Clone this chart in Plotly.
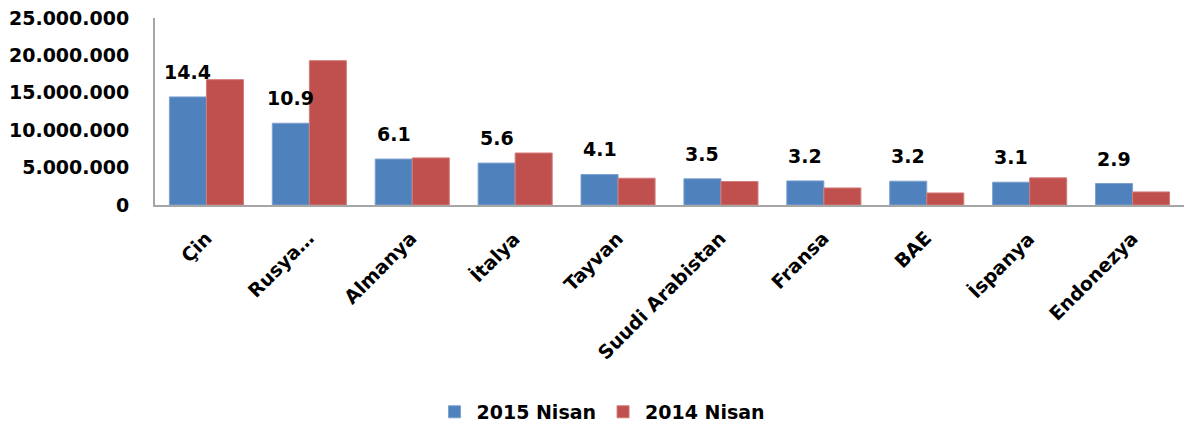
import plotly.graph_objects as go

categories = ["Çin", "Rusya…", "Almanya", "İtalya", "Tayvan", "Suudi Arabistan",
              "Fransa", "BAE", "İspanya", "Endonezya"]
series_2015 = [14450000, 10930000, 6140000, 5600000, 4080000, 3500000,
               3220000, 3180000, 3050000, 2870000]
series_2014 = [16760000, 19300000, 6300000, 6950000, 3580000, 3140000,
               2280000, 1610000, 3630000, 1750000]
labels_2015 = ["14.4", "10.9", "6.1", "5.6", "4.1", "3.5", "3.2", "3.2", "3.1", "2.9"]
y_ticks = [0, 5000000, 10000000, 15000000, 20000000, 25000000]

FONT = "DejaVu Sans"
BLUE = "#4F81BD"
RED = "#C0504D"

fig = go.Figure()
fig.add_trace(go.Bar(name="2015 Nisan", x=categories, y=series_2015,
                     marker=dict(color=BLUE, line=dict(color="#7EA1CE", width=1))))
fig.add_trace(go.Bar(name="2014 Nisan", x=categories, y=series_2014,
                     marker=dict(color=RED, line=dict(color="#D27C7A", width=1))))

for cat, val, lab in zip(categories, series_2015, labels_2015):
    fig.add_annotation(x=cat, y=val, text=lab, showarrow=False,
                       xshift=-18.5, yshift=25, yanchor="middle",
                       font=dict(family=FONT, size=19, color="black", weight="bold"))

# category labels, rotated
for cat in categories:
    fig.add_annotation(x=cat, y=0, text=cat, showarrow=False, textangle=-45,
                       xanchor="right", yanchor="top", xshift=12, yshift=-19,
                       font=dict(family=FONT, size=19, color="black", weight="bold"))

fig.update_layout(
    width=1184, height=426,
    margin=dict(l=155, r=0, t=18, b=221, autoexpand=False),
    paper_bgcolor="white", plot_bgcolor="white",
    barmode="group", bargap=0.28, bargroupgap=0,
    separators=",.",
    font=dict(family=FONT, size=19, color="black", weight="bold"),
    legend=dict(orientation="h", xref="container", yref="container",
                x=0.508, xanchor="center", y=0.033, yanchor="middle",
                font=dict(family=FONT, size=19, color="black", weight="bold"),
                itemwidth=34, traceorder="normal"),
    showlegend=True,
)
fig.update_yaxes(range=[0, 25000000], tickvals=y_ticks, tickformat=",d",
                 showgrid=False, zeroline=False, showline=True,
                 linecolor="#A6A6A6", linewidth=2, ticks="", automargin=False,
                 ticklabelstandoff=20,
                 tickfont=dict(family=FONT, size=19, color="black", weight="bold"))
fig.update_xaxes(showgrid=False, showline=True, linecolor="#A6A6A6", linewidth=2,
                 ticks="", showticklabels=False, automargin=False)

fig.write_html("out.html", config={"displayModeBar": False},
               post_script="document.body.style.margin='0';document.body.style.overflow='hidden';")
